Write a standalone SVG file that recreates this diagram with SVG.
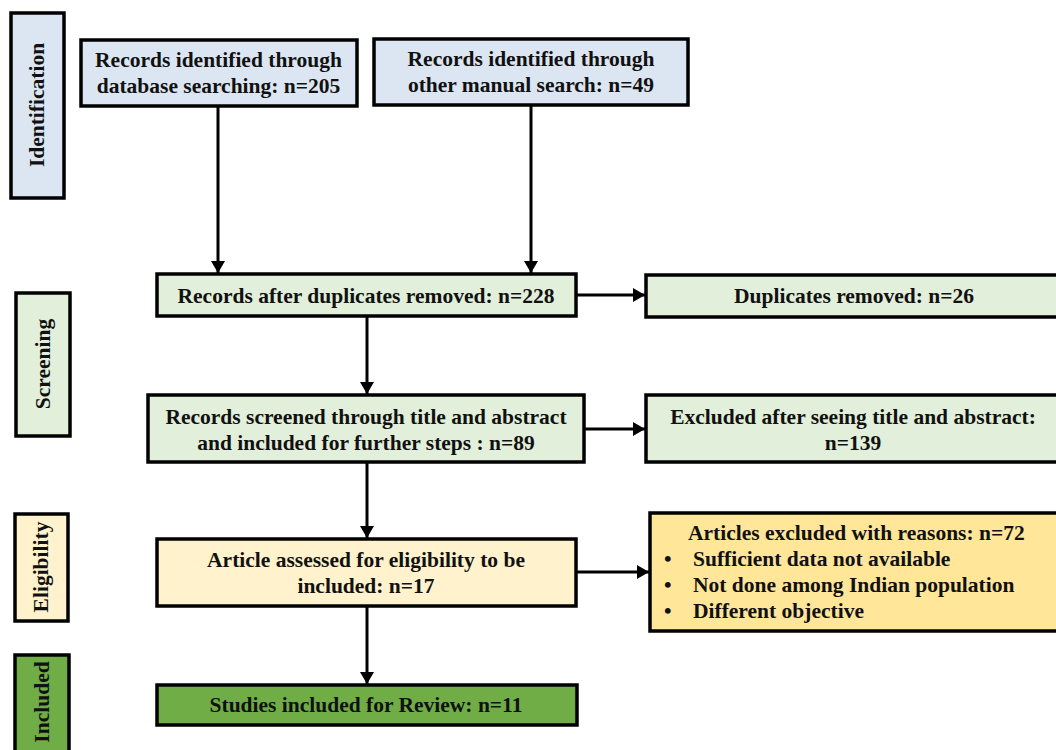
<svg xmlns="http://www.w3.org/2000/svg" width="1056" height="750" viewBox="0 0 1056 750">
<style>
.bx{stroke:#000;stroke-width:3.5}
.blue{fill:#dce6f2}
.lg{fill:#e2efda}
.ly{fill:#fff2cc}
.gold{fill:#ffe699}
.gr{fill:#70ad47}
text{font-family:"Liberation Serif","Times New Roman",serif;font-weight:bold;font-size:21.5px;fill:#111}
.c{text-anchor:middle}
.cn{stroke:#000;stroke-width:3;fill:none;marker-end:url(#ah)}
</style>
<defs>
<marker id="ah" markerUnits="userSpaceOnUse" markerWidth="14" markerHeight="15" refX="12" refY="7" orient="auto">
<path d="M0,0 L12,7 L0,14 Z" fill="#000"/>
</marker>
</defs>
<rect width="1056" height="750" fill="#fff"/>

<g id="lbl-identification">
<rect class="bx blue" x="11" y="13" width="53" height="185"/>
<text class="c" transform="translate(44,105) rotate(-90)">Identification</text>
</g>
<g id="lbl-screening">
<rect class="bx lg" x="16" y="293" width="54" height="143"/>
<text class="c" transform="translate(50,364) rotate(-90)">Screening</text>
</g>
<g id="lbl-eligibility">
<rect class="bx ly" x="15" y="514" width="53" height="107"/>
<text class="c" transform="translate(48,567) rotate(-90)">Eligibility</text>
</g>
<g id="lbl-included">
<rect class="bx gr" x="15" y="655" width="54" height="100"/>
<text class="c" transform="translate(49,702) rotate(-90)">Included</text>
</g>

<g id="n-database">
<rect class="bx blue" x="81" y="40" width="276" height="66"/>
<text class="c" x="218.5" y="67">Records identified through</text>
<text class="c" x="218.5" y="93">database searching: n=205</text>
</g>
<g id="n-manual">
<rect class="bx blue" x="374" y="39" width="314" height="66"/>
<text class="c" x="531" y="66">Records identified through</text>
<text class="c" x="531" y="92">other manual search: n=49</text>
</g>
<g id="n-after-dup">
<rect class="bx lg" x="157" y="274" width="419" height="42"/>
<text class="c" x="366" y="303">Records after duplicates removed: n=228</text>
</g>
<g id="n-dup-removed">
<rect class="bx lg" x="646" y="275" width="416" height="42"/>
<text class="c" x="854" y="303">Duplicates removed: n=26</text>
</g>
<g id="n-screened">
<rect class="bx lg" x="148" y="395" width="436" height="67"/>
<text class="c" x="366" y="424">Records screened through title and abstract</text>
<text class="c" x="366" y="450">and included for further steps : n=89</text>
</g>
<g id="n-excluded-ta">
<rect class="bx lg" x="646" y="395" width="416" height="67"/>
<text class="c" x="853" y="424">Excluded after seeing title and abstract:</text>
<text class="c" x="853" y="450">n=139</text>
</g>
<g id="n-eligibility">
<rect class="bx ly" x="157" y="539" width="419" height="67"/>
<text class="c" x="366" y="567">Article assessed for eligibility to be</text>
<text class="c" x="366" y="593">included: n=17</text>
</g>
<g id="n-excluded-reasons">
<rect class="bx gold" x="650" y="513" width="412" height="118"/>
<text x="688" y="540">Articles excluded with reasons: n=72</text>
<text x="664" y="566">•</text>
<text x="693" y="566">Sufficient data not available</text>
<text x="664" y="592">•</text>
<text x="693" y="592">Not done among Indian population</text>
<text x="664" y="618">•</text>
<text x="693" y="618">Different objective</text>
</g>
<g id="n-included">
<rect class="bx gr" x="157" y="685" width="420" height="40"/>
<text class="c" x="366" y="712">Studies included for Review: n=11</text>
</g>

<g id="connectors">
<path class="cn" d="M218,106 V273"/>
<path class="cn" d="M531,105 V273"/>
<path class="cn" d="M367,316 V394"/>
<path class="cn" d="M576,295 H645"/>
<path class="cn" d="M584,429 H645"/>
<path class="cn" d="M367,462 V538"/>
<path class="cn" d="M576,572 H649"/>
<path class="cn" d="M367,606 V684"/>
</g>
</svg>
